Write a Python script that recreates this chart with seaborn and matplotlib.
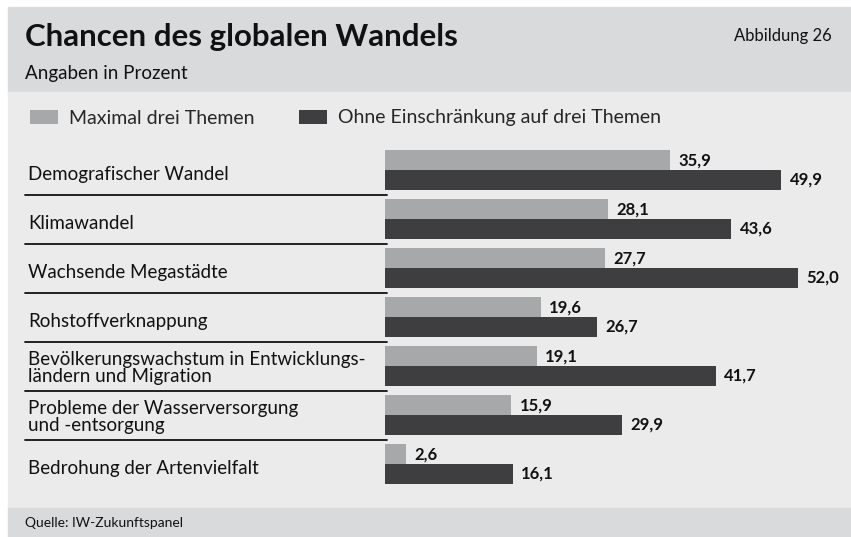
import pandas as pd
import numpy as np
import matplotlib.pyplot as plt
import matplotlib.transforms as mtransforms
from matplotlib.patches import Rectangle
import seaborn as sns

# Data
topics = [
    'Demografischer Wandel',
    'Klimawandel',
    'Wachsende Megastädte',
    'Rohstoffverknappung',
    'Bevölkerungswachstum in Entwicklungs-\nländern und Migration',
    'Probleme der Wasserversorgung\nund -entsorgung',
    'Bedrohung der Artenvielfalt',
]
max_three = [35.9, 28.1, 27.7, 19.6, 19.1, 15.9, 2.6]
unrestricted = [49.9, 43.6, 52.0, 26.7, 41.7, 29.9, 16.1]
series = ['Maximal drei Themen', 'Ohne Einschränkung auf drei Themen']
colors = ['#a7a8aa', '#3e3e40']

df = pd.DataFrame({
    'Thema': topics * 2,
    'Wert': max_three + unrestricted,
    'Reihe': [series[0]] * len(topics) + [series[1]] * len(topics),
})

sns.set_style('white')
plt.rcParams['font.family'] = ['Lato', 'DejaVu Sans']

W, H = 851, 537
fig = plt.figure(figsize=(W / 100, H / 100), dpi=100)
fig.patch.set_facecolor('white')

# background panels (pixel coords -> figure fraction)
def band(y0, y1, color):
    fig.patches.append(Rectangle((8 / W, 1 - y1 / H), 1 - 8 / W, (y1 - y0) / H,
                                 transform=fig.transFigure, color=color, zorder=-5))

band(7, 92, '#d9dadc')
band(92, 508, '#ebebeb')
band(508, 537, '#d9dadc')

# bar area: x 385..845 px, rows 145.5..488.5 px
ax = fig.add_axes([385 / W, 1 - 488.5 / H, 460 / W, 343 / H])
ax.set_facecolor('none')
sns.barplot(data=df, y='Thema', x='Wert', hue='Reihe', palette=colors,
            orient='h', width=0.8, linewidth=0, ax=ax)
ax.set_xlim(0, 460 / 7.94)
ax.set_ylim(len(topics) - 0.5, -0.5)
sns.despine(ax=ax, left=True, bottom=True)
ax.set_xticks([])
ax.set_yticks([])
ax.set_xlabel('')
ax.set_ylabel('')

for cont in ax.containers:
    ax.bar_label(cont, labels=[f'{v:.1f}'.replace('.', ',') for v in cont.datavalues],
                 padding=6, fontsize=12, fontweight='bold', color='#111111')

# category labels and separators
trans = mtransforms.blended_transform_factory(fig.transFigure, ax.transData)
for i, t in enumerate(topics):
    off = 0.04 if '\n' in t else 0.1
    ax.text(28 / W, i + off, t, transform=trans, ha='left', va='center',
            fontsize=13.5, color='#111111', linespacing=0.95, clip_on=False)
for i in range(len(topics) - 1):
    ax.plot([25 / W, 387 / W], [i + 0.52, i + 0.52], transform=trans,
            color='#111111', lw=1.3, clip_on=False)

# legend
sns.move_legend(ax, loc='center left', bbox_to_anchor=(30 / W, 1 - 118 / H),
                bbox_transform=fig.transFigure, ncol=2, frameon=False, title=None,
                fontsize=14, handlelength=1.45, handleheight=0.75,
                handletextpad=0.55, columnspacing=2.3,
                borderpad=0, borderaxespad=0)

# titles
fig.text(25 / W, 1 - 37 / H, 'Chancen des globalen Wandels', fontsize=22.5,
         fontweight='bold', va='center', ha='left', color='#111111')
fig.text(25 / W, 1 - 74 / H, 'Angaben in Prozent', fontsize=13.5,
         va='center', ha='left', color='#111111')
fig.text(832 / W, 1 - 36 / H, 'Abbildung 26', fontsize=12,
         va='center', ha='right', color='#111111')
fig.text(25 / W, 1 - 523 / H, 'Quelle: IW-Zukunftspanel', fontsize=10,
         va='center', ha='left', color='#111111')

fig.savefig('out.png', dpi=100)
